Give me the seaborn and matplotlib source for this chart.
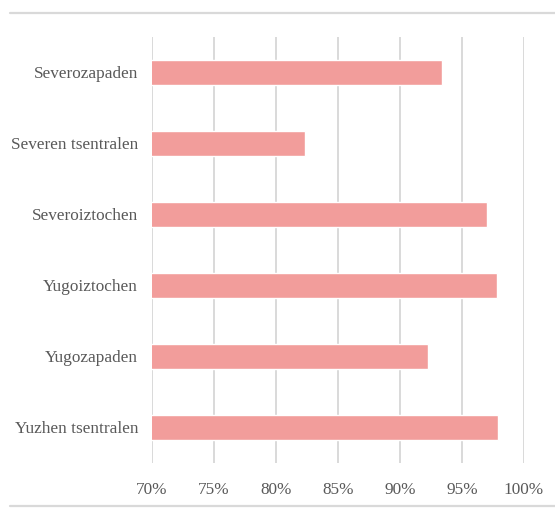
import matplotlib
matplotlib.use("Agg")
import matplotlib.pyplot as plt
from matplotlib.lines import Line2D
from matplotlib.ticker import FuncFormatter
import seaborn as sns
import pandas as pd

regions = ["Severozapaden", "Severen tsentralen", "Severoiztochen",
           "Yugoiztochen", "Yugozapaden", "Yuzhen tsentralen"]
shares = [93.4, 82.3, 97.0, 97.8, 92.3, 97.9]
x_ticks = [70, 75, 80, 85, 90, 95, 100]

sns.set_theme(style="white")
plt.rcParams['font.family'] = ['Liberation Serif', 'DejaVu Serif']

df = pd.DataFrame({"region": regions, "share": shares})

fig = plt.figure(figsize=(5.55, 5.11), dpi=100)
ax = fig.add_axes([0.274, 0.094, 0.670, 0.834])

sns.barplot(data=df, x="share", y="region", color="#F29D9B", width=0.35,
            saturation=1, ax=ax, zorder=3)

ax.set_xlim(70, 100)
ax.set_ylim(5.5, -0.5)
ax.set_xticks(x_ticks)
ax.xaxis.set_major_formatter(FuncFormatter(lambda v, p: f"{v:.0f}%"))
ax.grid(axis="x", color="#D9D9D9", linewidth=1.4, zorder=0)
ax.set_xlabel("")
ax.set_ylabel("")
for s in ax.spines.values():
    s.set_visible(False)
ax.tick_params(axis="both", length=0, labelsize=12.4, colors="#595959")
ax.tick_params(axis="x", pad=14)
ax.tick_params(axis="y", pad=10)

# cropped chart frame
fig.add_artist(Line2D([10 / 555, 1], [1 - 13 / 511] * 2, color="#D9D9D9", linewidth=1.6))
fig.add_artist(Line2D([10 / 555, 1], [1 - 506 / 511] * 2, color="#D9D9D9", linewidth=1.6))

fig.savefig("out.png", dpi=100)
